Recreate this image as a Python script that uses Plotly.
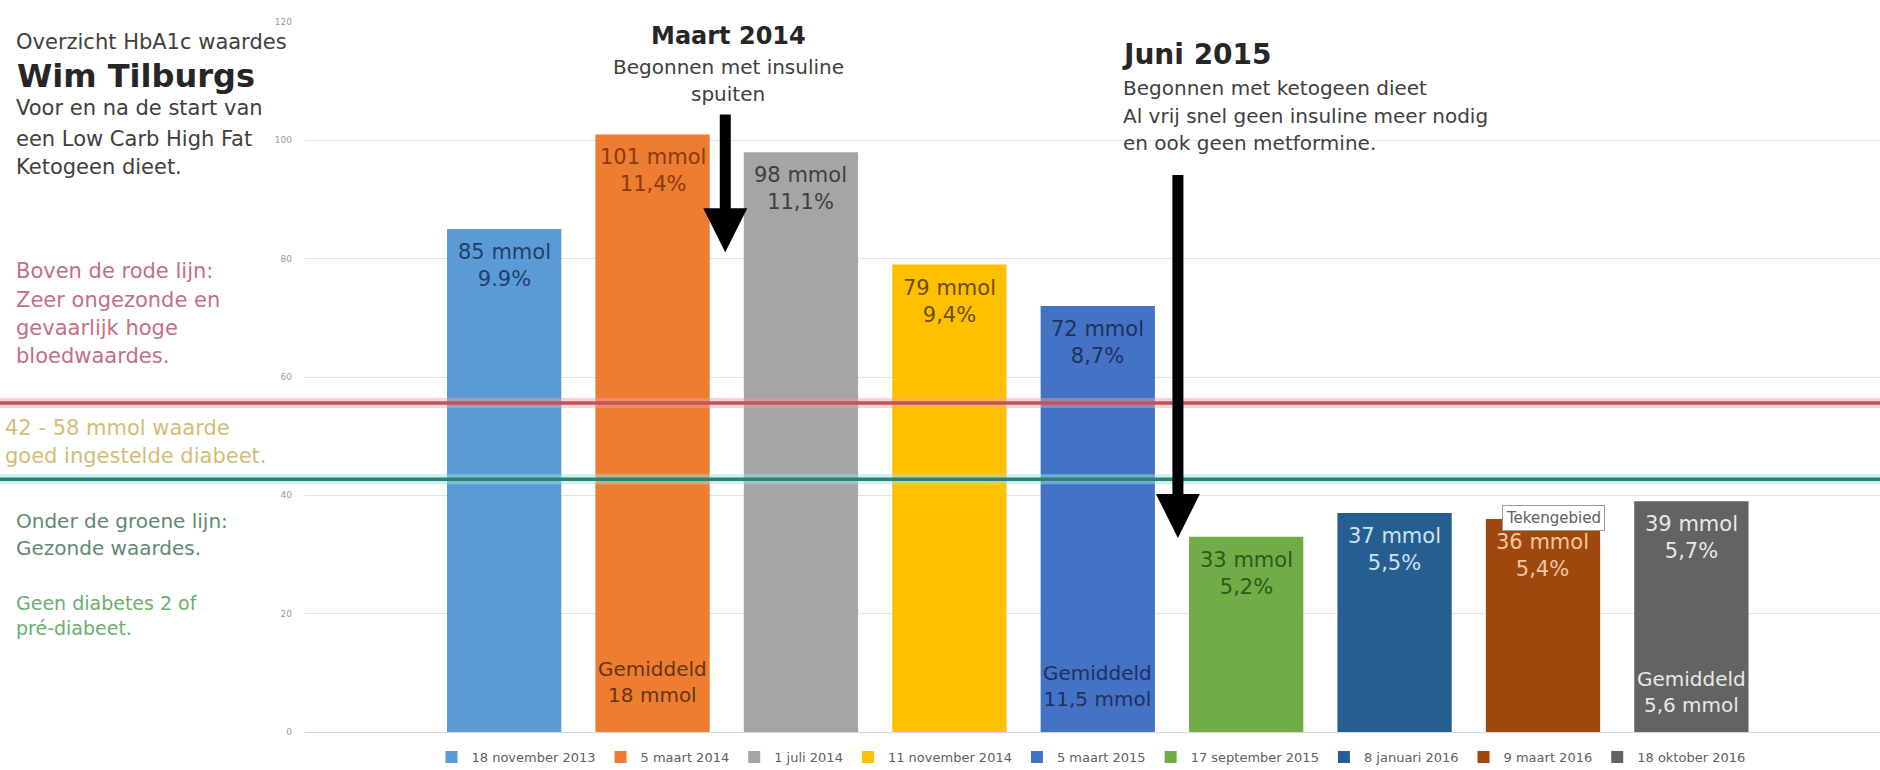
import plotly.graph_objects as go

# ---------------- data ----------------
dates = ["18 november 2013", "5 maart 2014", "1 juli 2014", "11 november 2014",
         "5 maart 2015", "17 september 2015", "8 januari 2016", "9 maart 2016",
         "18 oktober 2016"]
mmol = [85, 101, 98, 79, 72, 33, 37, 36, 39]
hba1c_pct = ["9.9%", "11,4%", "11,1%", "9,4%", "8,7%", "5,2%", "5,5%", "5,4%", "5,7%"]
bar_colors = ["#5B9BD5", "#ED7D31", "#A5A5A5", "#FFC000", "#4472C4",
              "#70AD47", "#255E91", "#9E480E", "#636363"]
label_colors = ["#1F3F6E", "#8B3A0E", "#3F3F3F", "#6B4E00", "#1F3060",
                "#2D5A1A", "#CFE2F3", "#F4C6A0", "#E8E8E8"]
avg_bar = ["5 maart 2014", "5 maart 2015", "18 oktober 2016"]
avg_text = ["Gemiddeld<br>18 mmol", "Gemiddeld<br>11,5 mmol", "Gemiddeld<br>5,6 mmol"]
avg_colors = ["#6B3410", "#1F3060", "#E8E8E8"]
red_limit = 55.6     # red line as drawn
green_limit = 42.7   # green line as drawn
y_ticks = [0, 20, 40, 60, 80, 100, 120]

FONT = "DejaVu Sans"
W, H = 1880, 770
L, R, T, B = 305, 0, 22, 38
PW, PH = W - L - R, H - T - B


def pxx(x):
    return (x - L) / PW


def pxy(y):
    return (H - B - y) / PH


fig = go.Figure()
for i, d in enumerate(dates):
    fig.add_trace(go.Bar(
        x=[d], y=[mmol[i]], name=d, width=0.77,
        marker=dict(color=bar_colors[i], line=dict(width=0)),
        hoverinfo="skip",
    ))

annotations = []

# value labels at the top inside each bar
for i, d in enumerate(dates):
    annotations.append(dict(text=f"{mmol[i]} mmol<br>{hba1c_pct[i]}", x=d, y=mmol[i],
                            xref="x", yref="y", xanchor="center", yanchor="top",
                            yshift=-9, showarrow=False,
                            font=dict(family=FONT, size=21, color=label_colors[i])))

# left side texts
left_lines = [
    ("Overzicht HbA1c waardes", 14, 42, 21, "#404040"),
    ("<b>Wim Tilburgs</b>", 15, 76, 32, "#262626"),
    ("Voor en na de start van", 14, 108, 21, "#404040"),
    ("een Low Carb High Fat", 14, 139, 21, "#404040"),
    ("Ketogeen dieet.", 14, 167, 21, "#404040"),
    ("Boven de rode lijn:", 14, 271, 21, "#C27085"),
    ("Zeer ongezonde en", 14, 300, 21, "#C27085"),
    ("gevaarlijk hoge", 14, 328, 21, "#C27085"),
    ("bloedwaardes.", 14, 356, 21, "#C27085"),
    ("42 - 58 mmol waarde", 3, 428, 21, "#D2BE78"),
    ("goed ingestelde diabeet.", 3, 456, 21, "#D2BE78"),
    ("Onder de groene lijn:", 14, 521, 20, "#5F8A70"),
    ("Gezonde waardes.", 14, 548, 20, "#5F8A70"),
    ("Geen diabetes 2 of", 14, 603, 19, "#6CAE72"),
    ("pré-diabeet.", 14, 628, 19, "#6CAE72"),
]
for txt, x, y, s, c in left_lines:
    annotations.append(dict(text=txt, xref="paper", yref="paper", x=pxx(x), y=pxy(y),
                            xanchor="left", yanchor="middle", showarrow=False,
                            font=dict(family=FONT, size=s, color=c)))

# top texts
top_lines = [
    ("<b>Maart 2014</b>", 728, 36, 24, "#262626", "center"),
    ("Begonnen met insuline", 728, 67, 20, "#404040", "center"),
    ("spuiten", 728, 94, 20, "#404040", "center"),
    ("<b>Juni 2015</b>", 1120, 54, 28, "#262626", "left"),
    ("Begonnen met ketogeen dieet", 1121, 88, 20, "#404040", "left"),
    ("Al vrij snel geen insuline meer nodig", 1121, 116, 20, "#404040", "left"),
    ("en ook geen metformine.", 1121, 143, 20, "#404040", "left"),
]
for txt, x, y, s, c, anc in top_lines:
    annotations.append(dict(text=txt, xref="paper", yref="paper", x=pxx(x), y=pxy(y),
                            xanchor=anc, yanchor="middle", showarrow=False,
                            font=dict(family=FONT, size=s, color=c)))

# arrows
for (xa, ytip, ytail) in [(1.49, 81.1, 104.6), (4.54, 32.8, 94.4)]:
    annotations.append(dict(text="", x=xa, y=ytip, xref="x", yref="y",
                            ax=xa, ay=ytail, axref="x", ayref="y",
                            showarrow=True, arrowhead=2, arrowwidth=11, arrowsize=0.8,
                            arrowcolor="#000000"))

# averages
for bar, txt, col, yv in zip(avg_bar, avg_text, avg_colors, [8.5, 7.7, 6.7]):
    annotations.append(dict(text=txt, x=bar, y=yv, xref="x", yref="y", showarrow=False,
                            xanchor="center", yanchor="middle",
                            font=dict(family=FONT, size=20, color=col)))

# screenshot tooltip
annotations.append(dict(text="Tekengebied", x=7.07, y=36.2, xref="x", yref="y",
                        showarrow=False, bgcolor="#FFFFFF", bordercolor="#9A9A9A",
                        borderwidth=1, borderpad=3,
                        font=dict(family=FONT, size=15, color="#606060")))

shapes = []
for val, glow, core in [(red_limit, "rgba(240,160,170,0.45)", "#C05458"),
                        (green_limit, "rgba(150,230,230,0.5)", "#2E8070")]:
    shapes.append(dict(type="line", xref="paper", yref="y", x0=pxx(0), x1=1,
                       y0=val, y1=val, layer="above", line=dict(color=glow, width=10)))
    shapes.append(dict(type="line", xref="paper", yref="y", x0=pxx(0), x1=1,
                       y0=val, y1=val, layer="above", line=dict(color=core, width=3.5)))

fig.update_layout(
    width=W, height=H,
    margin=dict(l=L, r=R, t=T, b=B, autoexpand=False),
    paper_bgcolor="white", plot_bgcolor="white",
    barmode="overlay",
    font=dict(family=FONT),
    showlegend=True,
    legend=dict(orientation="h", x=pxx(1091), xanchor="center", y=pxy(757), yanchor="middle",
                font=dict(family=FONT, size=13, color="#606060"),
                bgcolor="rgba(0,0,0,0)", traceorder="normal"),
    xaxis=dict(type="category", categoryorder="array", categoryarray=dates,
               range=[-1.342, 9.271], showticklabels=False, showgrid=False,
               zeroline=False, showline=False, fixedrange=True),
    yaxis=dict(range=[0, 120], tickvals=y_ticks, showgrid=True, gridcolor="#E3E3E3",
               gridwidth=1, zeroline=True, zerolinecolor="#D5D5D5", zerolinewidth=1,
               tickfont=dict(family=FONT, size=9, color="#9A9A9A"),
               ticklabelstandoff=12, showline=False, fixedrange=True),
    annotations=annotations,
    shapes=shapes,
)

fig.write_html("out.html")
